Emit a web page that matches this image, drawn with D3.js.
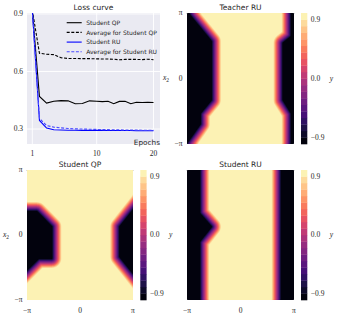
<!DOCTYPE html>
<html>
<head>
<meta charset="utf-8">
<script src="https://cdn.jsdelivr.net/npm/d3@7"></script>
<style>
  body { margin: 0; background: #fff; }
  svg { display: block; }
  .num { font-family: 'Liberation Serif', 'DejaVu Serif', serif; font-size: 7.5px; fill: #262626; }
  .txt { font-family: 'DejaVu Sans', sans-serif; fill: #262626; }
</style>
</head>
<body>
<div id="chart"></div>
<script>
// loss curve data
const epochs = [1, 2, 3, 4, 5, 6, 7, 8, 9, 10, 11, 12, 13, 14, 15, 16, 17, 18, 19, 20]
const studentQP = [0.92, 0.47, 0.435, 0.445, 0.448, 0.447, 0.432, 0.433, 0.447, 0.445, 0.443, 0.445, 0.432, 0.444, 0.445, 0.432, 0.44, 0.438, 0.44, 0.438]
const avgStudentQP = [0.92, 0.695, 0.69, 0.688, 0.672, 0.668, 0.668, 0.667, 0.667, 0.666, 0.665, 0.665, 0.664, 0.661, 0.663, 0.663, 0.663, 0.662, 0.664, 0.661]
const studentRU = [0.92, 0.345, 0.305, 0.296, 0.295, 0.294, 0.294, 0.293, 0.293, 0.293, 0.293, 0.292, 0.292, 0.292, 0.292, 0.292, 0.291, 0.291, 0.291, 0.291]
const avgStudentRU = [0.92, 0.355, 0.318, 0.31, 0.306, 0.303, 0.301, 0.3, 0.299, 0.298, 0.297, 0.297, 0.296, 0.296, 0.295, 0.295, 0.295, 0.294, 0.294, 0.294]
const epochTicks = [1, 10, 20]
const lossTicks = [0.3, 0.6, 0.9]

// heatmaps: regions where y = -0.9 or below, as polygons of [x1, x2]
const teacherRUBlack = [
  [[-4, 4], [-3.94, 4], [-1.71, 1.78], [-1.71, -1.03], [-2.36, -1.67], [-2.36, -2.18], [-3.5, -3.5], [-4, -4]],
  [[2.985, 4], [2.985, 2.02], [2.5, 1.7], [2.5, -1.03], [2.985, -1.67], [2.985, -4], [4, -4], [4, 4]]
]
const studentQPBlack = [
  [[-4, 1.13], [-2.55, 1.13], [-1.67, 0.4], [-1.67, -1.13], [-2.45, -1.13], [-4, -2.39]],
  [[4, 2.09], [2.36, 0.4], [2.36, -1.05], [4, -2.73]]
]
const studentRUBlack = [
  [[-4, 4], [-2.4, 4], [-2.4, 1.05], [-1.71, 0.4], [-2.4, -0.32], [-2.4, -4], [-4, -4]],
  [[2.4, 4], [4, 4], [4, -4], [2.4, -4]]
]
const levels = [-1, -0.9, -0.8, -0.7, -0.6, -0.5, -0.4, -0.3, -0.2, -0.1, 0, 0.1, 0.2, 0.3, 0.4, 0.5, 0.6, 0.7, 0.8, 0.9, 1]
const colorTicks = [-0.9, 0, 0.9]
const angleTicks = [-Math.PI, 0, Math.PI]
const angleLabels = ['−π', '0', 'π']

const svg = d3.select('#chart').append('svg')
  .attr('width', 338)
  .attr('height', 317)

// each band takes the colour of its midpoint
const bandColor = i => d3.interpolateMagma((i + 0.5) / (levels.length - 1))

// ---- loss curve ----
const plot = { left: 27, top: 13, right: 160, bottom: 144 }
const x = d3.scaleLinear().domain([1, 10, 20]).range([32.3, 96.7, 153.5])
const y = d3.scaleLinear().domain([0.222, 0.905]).range([plot.bottom, plot.top])

svg.append('rect')
  .attr('x', plot.left).attr('y', plot.top)
  .attr('width', plot.right - plot.left).attr('height', plot.bottom - plot.top)
  .attr('fill', '#eaeaf2')

svg.append('clipPath').attr('id', 'lossclip')
  .append('rect')
  .attr('x', plot.left).attr('y', plot.top)
  .attr('width', plot.right - plot.left).attr('height', plot.bottom - plot.top)

svg.append('g').selectAll('line.v')
  .data(epochTicks)
  .enter().append('line')
  .attr('x1', d => x(d)).attr('x2', d => x(d))
  .attr('y1', plot.top).attr('y2', plot.bottom)
  .attr('stroke', '#fff').attr('stroke-width', 0.9)

svg.append('g').selectAll('line.h')
  .data(lossTicks)
  .enter().append('line')
  .attr('x1', plot.left).attr('x2', plot.right)
  .attr('y1', d => y(d)).attr('y2', d => y(d))
  .attr('stroke', '#fff').attr('stroke-width', 0.9)

const series = [
  { name: 'Student QP', values: studentQP, color: '#000', dash: null },
  { name: 'Average for Student QP', values: avgStudentQP, color: '#000', dash: '3,1.6' },
  { name: 'Student RU', values: studentRU, color: '#0000ff', dash: null },
  { name: 'Average for Student RU', values: avgStudentRU, color: '#4a4aff', dash: '3,1.6' }
]

const line = d3.line()
  .x((d, i) => x(epochs[i]))
  .y(d => y(d))

svg.append('g')
  .attr('clip-path', 'url(#lossclip)')
  .selectAll('path')
  .data(series)
  .enter().append('path')
  .attr('d', d => line(d.values))
  .attr('fill', 'none')
  .attr('stroke', d => d.color)
  .attr('stroke-width', 1.1)
  .attr('stroke-dasharray', d => d.dash)

const legend = svg.append('g').selectAll('g')
  .data(series)
  .enter().append('g')
  .attr('transform', (d, i) => 'translate(' + [66.7, 22.7 + i * 9.7] + ')')

legend.append('line')
  .attr('x1', 0).attr('x2', 15)
  .attr('stroke', d => d.color)
  .attr('stroke-width', 1.1)
  .attr('stroke-dasharray', d => d.dash)

legend.append('text')
  .attr('class', 'txt')
  .attr('x', 19.5).attr('dy', '0.35em')
  .attr('font-size', 6)
  .text(d => d.name)

svg.append('g').selectAll('text')
  .data(epochTicks)
  .enter().append('text')
  .attr('class', 'num')
  .attr('x', d => x(d)).attr('y', 156)
  .attr('text-anchor', 'middle')
  .text(d => d)

svg.append('g').selectAll('text')
  .data(lossTicks)
  .enter().append('text')
  .attr('class', 'num')
  .attr('x', 23).attr('y', d => y(d))
  .attr('dy', '0.32em')
  .attr('text-anchor', 'end')
  .text(d => d3.format('.1f')(d))

svg.append('text')
  .attr('class', 'txt')
  .attr('x', 160).attr('y', 144.5)
  .attr('text-anchor', 'end')
  .attr('font-size', 7.3)
  .text('Epochs')

svg.append('text')
  .attr('class', 'txt')
  .attr('x', (plot.left + plot.right) / 2).attr('y', 10)
  .attr('text-anchor', 'middle')
  .attr('font-size', 7.5)
  .text('Loss curve')

// ---- heatmaps ----
function segDist(p, a, b) {
  const dx = b[0] - a[0]
  const dy = b[1] - a[1]
  let t = ((p[0] - a[0]) * dx + (p[1] - a[1]) * dy) / (dx * dx + dy * dy)
  t = Math.max(0, Math.min(1, t))
  return Math.hypot(p[0] - a[0] - t * dx, p[1] - a[1] - t * dy)
}

function polyDist(p, poly) {
  if (d3.polygonContains(poly, p)) return 0
  let best = Infinity
  poly.forEach((a, k) => {
    best = Math.min(best, segDist(p, a, poly[(k + 1) % poly.length]))
  })
  return best
}

function heatmap({
  left, top, width, height,
  blacks,
  title,
  band = 10,
  cbLeft,
  cbWidth = 6.3,
  showX = true,
  showY = true
}) {
  const hx = d3.scaleLinear().domain([-Math.PI, Math.PI]).range([0, width])
  const hy = d3.scaleLinear().domain([-Math.PI, Math.PI]).range([height, 0])
  const polys = blacks.map(p => p.map(([a, b]) => [hx(a), hy(b)]))
  const nx = Math.round(width)
  const ny = Math.round(height)
  const values = new Float64Array(nx * ny)
  for (let j = 0; j < ny; j++) {
    for (let i = 0; i < nx; i++) {
      const p = [(i + 0.5) * width / nx, (j + 0.5) * height / ny]
      const d = d3.min(polys, poly => polyDist(p, poly))
      values[j * nx + i] = -1 + 2 * Math.min(d / band, 1)
    }
  }

  const contours = d3.contours()
    .size([nx, ny])
    .thresholds(levels.slice(0, -1))(values)

  const g = svg.append('g')
    .attr('transform', 'translate(' + [left, top] + ')')

  g.append('g')
    .attr('transform', 'scale(' + [width / nx, height / ny] + ')')
    .selectAll('path')
    .data(contours)
    .enter().append('path')
    .attr('d', d3.geoPath())
    .attr('fill', (d, i) => bandColor(i))

  g.append('text')
    .attr('class', 'txt')
    .attr('x', width / 2).attr('y', -3)
    .attr('text-anchor', 'middle')
    .attr('font-size', 7.5)
    .text(title)

  if (showX) {
    g.append('g').selectAll('text')
      .data(angleTicks)
      .enter().append('text')
      .attr('class', 'num')
      .attr('x', d => hx(d)).attr('y', height + 12.5)
      .attr('text-anchor', 'middle')
      .text((d, i) => angleLabels[i])
  }

  if (showY) {
    g.append('g').selectAll('text')
      .data(angleTicks)
      .enter().append('text')
      .attr('class', 'num')
      .attr('x', -4.5).attr('y', d => hy(d))
      .attr('dy', '0.32em')
      .attr('text-anchor', 'end')
      .text((d, i) => angleLabels[i])

    const lab = g.append('text')
      .attr('class', 'num')
      .attr('x', -21).attr('y', height / 2)
      .attr('dy', '0.2em')
      .attr('text-anchor', 'middle')
      .attr('font-style', 'italic')
    lab.append('tspan').text('x')
    lab.append('tspan').attr('font-size', 5.5).attr('dy', 2).attr('font-style', 'normal').text('2')
  }

  // colorbar
  const cy = d3.scaleLinear().domain([-1, 1]).range([top + height, top])
  const cb = svg.append('g')
  cb.selectAll('rect')
    .data(levels.slice(0, -1))
    .enter().append('rect')
    .attr('x', cbLeft)
    .attr('width', cbWidth)
    .attr('y', (d, i) => cy(levels[i + 1]))
    .attr('height', (d, i) => cy(d) - cy(levels[i + 1]) + 0.3)
    .attr('fill', (d, i) => bandColor(i))

  cb.selectAll('text.tick')
    .data(colorTicks)
    .enter().append('text')
    .attr('class', 'num')
    .attr('x', cbLeft + cbWidth + 3.5)
    .attr('y', d => cy(d))
    .attr('dy', '0.32em')
    .text(d => d3.format('.1f')(d).replace('-', '−'))

  cb.append('text')
    .attr('class', 'num')
    .attr('x', cbLeft + cbWidth + 24)
    .attr('y', top + height / 2)
    .attr('dy', '0.3em')
    .attr('text-anchor', 'middle')
    .attr('font-style', 'italic')
    .text('y')
}

heatmap({ left: 187, top: 13, width: 107, height: 131, blacks: teacherRUBlack, title: 'Teacher RU', cbLeft: 301, showX: false })
heatmap({ left: 27, top: 170, width: 106, height: 130, blacks: studentQPBlack, title: 'Student QP', cbLeft: 140.3 })
heatmap({ left: 187, top: 170, width: 107, height: 130, blacks: studentRUBlack, title: 'Student RU', cbLeft: 301, showY: false })
</script>
</body>
</html>
